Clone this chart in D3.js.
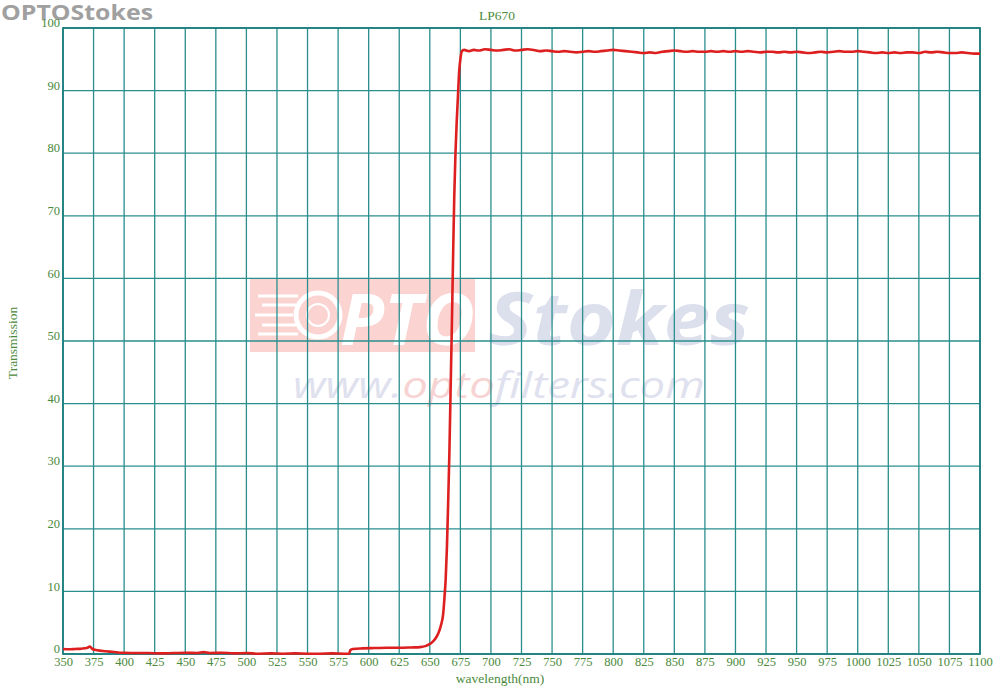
<!DOCTYPE html>
<html><head><meta charset="utf-8">
<script src="https://cdn.jsdelivr.net/npm/d3@7"></script>
<style>body{margin:0;background:#fff}svg{display:block}</style>
</head><body><svg id="c" width="1000" height="690"></svg>
<script>
const title = "LP670";
const xTicks = [350,375,400,425,450,475,500,525,550,575,600,625,650,675,700,725,750,775,800,825,850,875,900,925,950,975,1000,1025,1050,1075,1100];
const yTicks = [0,10,20,30,40,50,60,70,80,90,100];
const wavelength = [350,355,360,365,370,372,374,378,385,390,395,400,410,420,430,440,450,460,465,470,480,490,500,510,520,530,540,550,560,570,580,584,585,587,595,605,615,625,635,642,647,651,654,657,659,661,662,663,664,665,666,667,668,669,670,671,672,673,674,675,676,678,682,686,690,695,700,705,710,715,720,725,730,735,740,745,750,755,760,765,770,775,780,785,790,795,800,805,810,815,820,825,830,835,840,845,850,855,860,865,870,875,880,885,890,895,900,905,910,915,920,925,930,935,940,945,950,955,960,965,970,975,980,985,990,995,1000,1005,1010,1015,1020,1025,1030,1035,1040,1045,1050,1055,1060,1065,1070,1075,1080,1085,1090,1095,1100];
const transmission = [0.8,0.75,0.8,0.85,1.0,1.2,0.8,0.6,0.45,0.35,0.25,0.2,0.15,0.15,0.1,0.15,0.2,0.15,0.3,0.15,0.2,0.1,0.15,0.05,0.1,0.05,0.1,0.05,0.05,0.1,0.05,0.05,0.6,0.8,0.9,0.95,1.0,1.0,1.05,1.1,1.3,1.7,2.3,3.3,4.5,6.5,9,12,17,24,32,42,52,63,73,80,85,89,93,95,96.2,96.5,96.3,96.5,96.4,96.6,96.5,96.4,96.5,96.6,96.4,96.5,96.6,96.5,96.3,96.4,96.3,96.2,96.3,96.2,96.1,96.2,96.3,96.2,96.3,96.4,96.5,96.4,96.3,96.2,96.1,96.0,96.1,96.0,96.2,96.3,96.4,96.3,96.2,96.3,96.2,96.2,96.3,96.2,96.3,96.2,96.3,96.2,96.3,96.2,96.1,96.2,96.2,96.1,96.2,96.1,96.2,96.1,96.0,96.1,96.2,96.1,96.2,96.3,96.2,96.2,96.3,96.2,96.1,96.0,96.1,96.0,96.1,96.0,96.1,96.1,96.0,96.2,96.1,96.2,96.1,96.0,96.0,96.1,96.0,95.9,95.9];

const svg = d3.select("#c");
const L = 63, R = 980, T = 28, B = 654;
const x = d3.scaleLinear().domain([350,1100]).range([L,R]);
const y = d3.scaleLinear().domain([0,100]).range([B,T]);
const green = "#4b8a3c", teal = "#2a8e8e";

// logo top-left
svg.append("text").attr("x",1).attr("y",20).attr("font-family","'Open Sans',sans-serif")
  .attr("font-weight","bold").attr("font-size",21).attr("fill","#a0a0a0")
  .attr("textLength",152).attr("lengthAdjust","spacingAndGlyphs").text("OPTOStokes");

// watermark
const wm = svg.append("g");
wm.append("rect").attr("x",250).attr("y",279).attr("width",225).attr("height",73).attr("fill","#fbd3d1");
wm.append("circle").attr("cx",318).attr("cy",315).attr("r",22).attr("fill","none").attr("stroke","#fff").attr("stroke-width",5);
wm.append("circle").attr("cx",318).attr("cy",315).attr("r",11).attr("fill","none").attr("stroke","#fff").attr("stroke-width",2);
[[258,296,40],[262,305,34],[255,315,38],[262,325,34],[258,334,40]].forEach(d=>{
  wm.append("line").attr("x1",d[0]).attr("x2",d[0]+d[2]).attr("y1",d[1]).attr("y2",d[1]).attr("stroke","#fff").attr("stroke-width",3);
});
wm.append("text").attr("x",340).attr("y",345).attr("font-family","'Open Sans',sans-serif").attr("font-weight","bold")
  .attr("font-style","italic").attr("font-size",72).attr("fill","#fff").attr("textLength",135).attr("lengthAdjust","spacingAndGlyphs").text("PTO");
wm.append("text").attr("x",488).attr("y",345).attr("font-family","'Open Sans',sans-serif").attr("font-weight","bold")
  .attr("font-style","italic").attr("font-size",74).attr("fill","#dcdfec").attr("textLength",262).attr("lengthAdjust","spacingAndGlyphs").text("Stokes");
const wt = wm.append("text").attr("x",293).attr("y",398).attr("font-family","'Open Sans',sans-serif")
  .attr("font-style","italic").attr("font-size",36).attr("textLength",412).attr("lengthAdjust","spacingAndGlyphs");
wt.append("tspan").attr("fill","#dfe1ee").text("www.");
wt.append("tspan").attr("fill","#f7d3d3").text("opto");
wt.append("tspan").attr("fill","#dfe1ee").text("filters.com");

// grid
const g = svg.append("g");
g.selectAll("line.v").data(xTicks).join("line").attr("class","v")
  .attr("x1",d=>x(d)).attr("x2",d=>x(d)).attr("y1",T).attr("y2",B)
  .attr("stroke",teal).attr("stroke-width",1.3);
g.selectAll("line.h").data(yTicks).join("line").attr("class","h")
  .attr("x1",L).attr("x2",R).attr("y1",d=>y(d)).attr("y2",d=>y(d))
  .attr("stroke",teal).attr("stroke-width",1.3);
g.append("rect").attr("x",L).attr("y",T).attr("width",R-L).attr("height",B-T)
  .attr("fill","none").attr("stroke","#1f7f7f").attr("stroke-width",1.8);

// axes labels via d3 axes
const xa = svg.append("g").attr("transform",`translate(0,${B})`)
  .call(d3.axisBottom(x).tickValues(xTicks).tickSize(0).tickPadding(3).tickFormat(d3.format("d")));
const ya = svg.append("g").attr("transform",`translate(${L},0)`)
  .call(d3.axisLeft(y).tickValues(yTicks).tickSize(0).tickPadding(3).tickFormat(d3.format("d")));
[xa,ya].forEach(a=>{
  a.select(".domain").remove();
  a.selectAll("text").attr("fill",green).attr("font-family","'Liberation Serif',serif").attr("font-size",12.5);
});
ya.selectAll("text").attr("dy","-0.1em");

svg.append("text").attr("x",497).attr("y",20).attr("text-anchor","middle")
  .attr("font-family","'Liberation Serif',serif").attr("font-size",13.5).attr("fill",green).text(title);
svg.append("text").attr("x",500).attr("y",683).attr("text-anchor","middle")
  .attr("font-family","'Liberation Serif',serif").attr("font-size",13.5).attr("fill",green).text("wavelength(nm)");
svg.append("text").attr("transform","translate(17,343) rotate(-90)").attr("text-anchor","middle")
  .attr("font-family","'Liberation Serif',serif").attr("font-size",13.5).attr("fill",green).text("Transmission");

// curve
const data = wavelength.map((w,i)=>[w,transmission[i]]);
svg.append("path").datum(data)
  .attr("d",d3.line().x(d=>x(d[0])).y(d=>y(d[1])).curve(d3.curveMonotoneX))
  .attr("fill","none").attr("stroke","#dd1f1f").attr("stroke-width",2.6).attr("stroke-linejoin","round");
</script></body></html>
